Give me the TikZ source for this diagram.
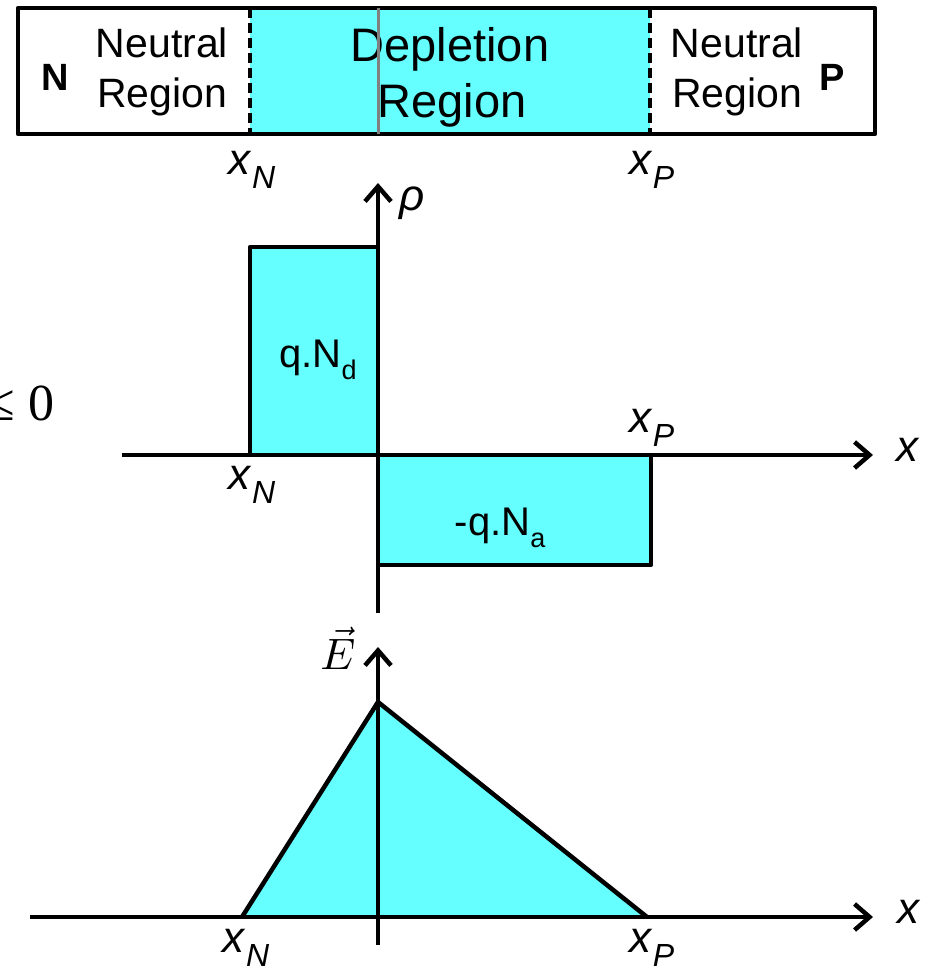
\documentclass[tikz,border=0pt]{standalone}
\usepackage{fontspec}
\usepackage{graphicx}
\setmainfont{Liberation Sans}
\newfontfamily\serifb{Liberation Serif}
\usetikzlibrary{arrows.meta}
\definecolor{cy}{RGB}{102,255,255}
\definecolor{gr}{RGB}{128,128,128}
\newcommand{\fsz}[1]{\fontsize{#1}{#1}\selectfont}
\newcommand{\xlab}[1]{\fsz{44}\textit{x}\raisebox{-14pt}{\fsz{32}\textit{#1}}}
\begin{document}
\begin{tikzpicture}[x=1pt,y=-1pt,
  lbl/.style={inner sep=0pt,outer sep=0pt},
  axis/.style={line width=4.5pt,-{Straight Barb[length=15pt,width=26pt,line width=4.5pt]}},
  edge/.style={line width=4.5pt,line join=round},
  dline/.style={line width=3.5pt,dash pattern=on 10pt off 5pt}]
\useasboundingbox (0,0) rectangle (929,968);
% ---- top bar ----
\fill[cy] (250,8) rectangle (650,134);
\draw[edge] (18,8) rectangle (875,134);
\draw[dline] (250,8) -- (250,134);
\draw[dline] (650,8) -- (650,134);
\node[lbl,anchor=base] (nn) at (55,91) {\fsz{38}\bfseries N};
\node[lbl,anchor=base] (ln1) at (162,58) {\fsz{41}Neutral};
\node[lbl,anchor=base] (ln2) at (162,108) {\fsz{41}Region};
\node[lbl,anchor=base] (dp1) at (450,62) {\fsz{47}Depletion};
\node[lbl,anchor=base] (dp2) at (452,118) {\fsz{47}Region};
\node[lbl,anchor=base] (rn1) at (737,58) {\fsz{41}Neutral};
\node[lbl,anchor=base] (rn2) at (737,108) {\fsz{41}Region};
\node[lbl,anchor=base] (pp) at (832,91) {\fsz{38}\bfseries P};
\draw[gr,line width=3pt] (378,8) -- (378,134);
\node[lbl] (xn0) at (252,170) {\xlab{N}};
\node[lbl] (xp0) at (652,170) {\xlab{P}};
% ---- clipped fragment ----
\node[lbl,anchor=base east] (le) at (54,420) {\serifb\fsz{52}≤ 0};
% ---- rho plot ----
\fill[cy] (250,247) rectangle (378,455);
\fill[cy] (378,455) rectangle (651,565);
\draw[edge] (250,455) -- (250,247) -- (378,247);
\draw[edge] (378,565) -- (651,565) -- (651,455);
\draw[axis] (122,455) -- (873,455);
\draw[axis] (378,613) -- (378,183);
\node[lbl] (rho) at (412,203) {\fsz{44}\itshape ρ};
\node[lbl] (xax1) at (907,450) {\fsz{44}\itshape x};
\node[lbl] (xp1) at (652,428) {\xlab{P}};
\node[lbl] (xn1) at (252,485) {\xlab{N}};
\node[lbl,anchor=base] (qnd) at (318,367) {\fsz{40}q.N\raisebox{-12pt}{\fsz{27}d}};
\node[lbl,anchor=base] (qna) at (500,535) {\fsz{40}-q.N\raisebox{-12pt}{\fsz{27}a}};
% ---- E plot ----
\fill[cy] (242,917) -- (378,702) -- (647,917) -- cycle;
\draw[line width=3.5pt] (378,945) -- (378,702);
\draw[edge] (242,917) -- (378,702) -- (647,917);
\draw[axis] (30,917) -- (873,917);
\draw[axis] (378,702) -- (378,647);
\node[lbl] (ev) at (338,648) {\scalebox{4.4}{$\vec{E}$}};
\node[lbl] (xax2) at (908,912) {\fsz{44}\itshape x};
\node[lbl] (xn2) at (246,948) {\xlab{N}};
\node[lbl] (xp2) at (652,948) {\xlab{P}};
\end{tikzpicture}
\end{document}
